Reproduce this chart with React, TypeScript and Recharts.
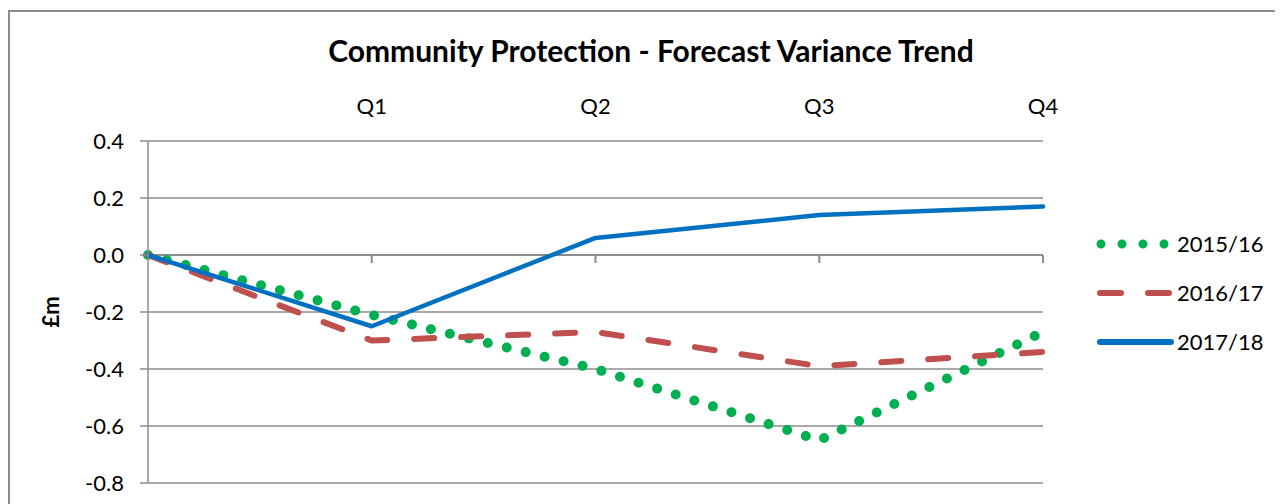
import { LineChart, Line, XAxis, YAxis, CartesianGrid, ReferenceLine } from "recharts";

const quarters = ["", "Q1", "Q2", "Q3", "Q4"];
const fy1516 = [0, -0.21, -0.4, -0.65, -0.27];
const fy1617 = [0, -0.3, -0.27, -0.39, -0.34];
const fy1718 = [0, -0.25, 0.06, 0.14, 0.17];
const yTicks = [-0.8, -0.6, -0.4, -0.2, 0, 0.2, 0.4];

const data = quarters.map((q, i) => ({
    q,
    a: fy1516[i],
    b: fy1617[i],
    c: fy1718[i],
}));

const SERIES = [
    { key: "a", name: "2015/16", color: "#00b050", width: 10, dash: "0 19.5" },
    { key: "b", name: "2016/17", color: "#c0504d", width: 6, dash: "20 27" },
    { key: "c", name: "2017/18", color: "#0070c0", width: 4.5, dash: undefined },
];

const GRID = "#8c8c8c";
const FONT = "Lato, 'Open Sans', sans-serif";
const TXT = 22;

const App = () => {
    return (
        <div
            style={{
                position: "relative",
                marginTop: 2,
                width: 1273,
                height: 492,
                borderTop: `2px solid ${GRID}`,
                borderLeft: `2px solid ${GRID}`,
                fontFamily: FONT,
                color: "#000",
            }}
        >
            <div
                style={{
                    position: "absolute",
                    left: 0,
                    top: 20,
                    width: 1282,
                    textAlign: "center",
                    fontSize: 30,
                    fontWeight: 700,
                }}
            >
                Community Protection - Forecast Variance Trend
            </div>
            <div
                style={{
                    position: "absolute",
                    left: 40,
                    top: 300,
                    transform: "translate(-50%, -50%) rotate(-90deg)",
                    fontSize: TXT,
                    fontWeight: 700,
                }}
            >
                £m
            </div>
            <LineChart
                width={1273}
                height={492}
                data={data}
                margin={{ top: 80, right: 240, bottom: 21, left: 0 }}
                style={{ fontFamily: FONT }}
            >
                <CartesianGrid vertical={false} stroke={GRID} strokeWidth={1.5} />
                <XAxis
                    dataKey="q"
                    orientation="top"
                    height={49}
                    axisLine={false}
                    tickLine={false}
                    tickSize={0}
                    tickMargin={27}
                    interval={0}
                    tick={{ fill: "#000", fontSize: TXT }}
                />
                <YAxis
                    width={138}
                    domain={[-0.8, 0.4]}
                    ticks={yTicks}
                    tickFormatter={(v: number) => v.toFixed(1)}
                    tick={{ fill: "#000", fontSize: TXT }}
                    tickSize={8}
                    tickMargin={16}
                    tickLine={{ stroke: GRID, strokeWidth: 1.5 }}
                    axisLine={{ stroke: GRID, strokeWidth: 1.5 }}
                />
                <ReferenceLine y={0} stroke={GRID} strokeWidth={2} />
                {quarters.slice(1).map((q) => (
                    <ReferenceLine
                        key={q}
                        segment={[{ x: q, y: 0 }, { x: q, y: -0.028 }]}
                        stroke={GRID}
                        strokeWidth={2}
                    />
                ))}
                {SERIES.map((s) => (
                    <Line
                        key={s.key}
                        dataKey={s.key}
                        name={s.name}
                        stroke={s.color}
                        strokeWidth={s.width}
                        strokeDasharray={s.dash}
                        strokeLinecap="round"
                        strokeLinejoin="round"
                        dot={false}
                        activeDot={false}
                        isAnimationActive={false}
                    />
                ))}
            </LineChart>
            <div style={{ position: "absolute", left: 1085, top: 207 }}>
                {SERIES.map((s) => (
                    <div key={s.key} style={{ display: "flex", alignItems: "center", height: 49 }}>
                        <svg width={80} height={14}>
                            <line
                                x1={s.key === "a" ? 6 : 5}
                                y1={7}
                                x2={s.key === "a" ? 80 : 76}
                                y2={7}
                                stroke={s.color}
                                strokeWidth={s.key === "a" ? 9 : 6}
                                strokeDasharray={s.key === "a" ? "0 21" : s.key === "b" ? "21 27" : undefined}
                                strokeLinecap="round"
                            />
                        </svg>
                        <span style={{ fontSize: TXT, marginLeft: 2 }}>{s.name}</span>
                    </div>
                ))}
            </div>
        </div>
    );
};

export default App;
